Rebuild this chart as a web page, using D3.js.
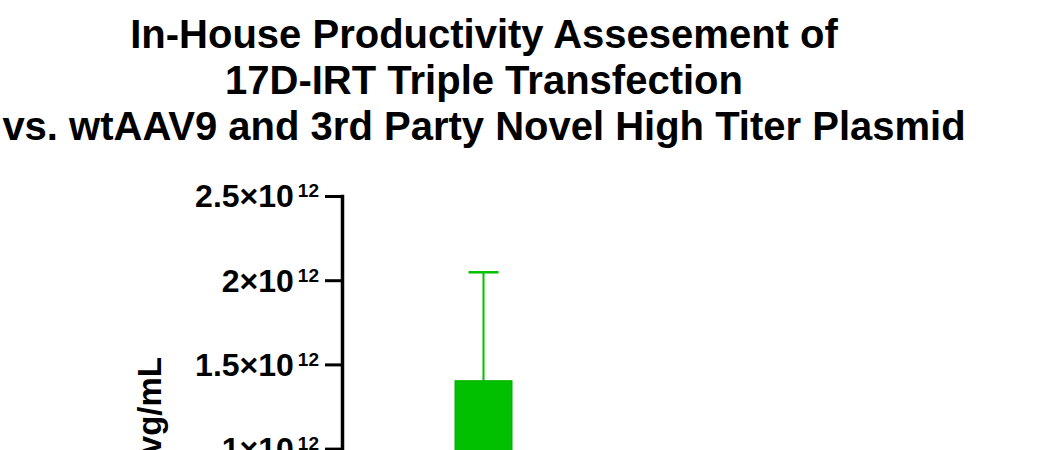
<!DOCTYPE html>
<html>
<head>
<meta charset="utf-8">
<script src="https://cdn.jsdelivr.net/npm/d3@7"></script>
<style>
  body { margin: 0; background: #fff; }
  svg { display: block; font-family: "Liberation Sans", Arial, sans-serif; }
</style>
</head>
<body>
<svg id="chart" width="1053" height="450"></svg>
<script>
// data
const titleLines = [
    "In-House Productivity Assesement of",
    "17D-IRT Triple Transfection",
    "vs. wtAAV9 and 3rd Party Novel High Titer Plasmid"
];
const categories = ["17D-IRT"];
const means = [1.403e12];
const errors = [0.644e12];
const yTicks = [0, 0.5e12, 1e12, 1.5e12, 2e12, 2.5e12];
const yTickMantissa = ["0", "5", "1", "1.5", "2", "2.5"];
const yTickExp = ["", "11", "12", "12", "12", "12"];
const yTitle = "vg/mL";

const svg = d3.select("#chart");
const green = "#00c000";

// titulo
svg.append("g")
    .selectAll("text")
    .data(titleLines)
    .enter()
    .append("text")
    .attr("x", 484)
    .attr("y", (d, i) => 48 + i * 46)
    .attr("text-anchor", "middle")
    .attr("font-size", "40px")
    .attr("font-weight", "bold")
    .text(d => d);

const axisX = 342;
const y = d3.scaleLinear()
    .domain([0, 2.5e12])
    .range([617, 196]);

const x = d3.scaleBand()
    .domain(categories)
    .range([398, 569])
    .padding(0.5);

// eje y
const yAxis = svg.append("g")
    .attr("transform", `translate(${axisX},0)`)
    .call(d3.axisLeft(y).tickValues(yTicks).tickSize(17).tickSizeOuter(0).tickFormat(""));

yAxis.select(".domain")
    .attr("stroke", "black")
    .attr("stroke-width", 3.5)
    .attr("stroke-linecap", "square");

yAxis.selectAll(".tick line")
    .attr("stroke", "black")
    .attr("stroke-width", 3);

yAxis.selectAll(".tick").each(function(d, i) {
    const t = d3.select(this).append("text")
        .attr("x", -23)
        .attr("dy", "0.34em")
        .attr("fill", "black")
        .attr("text-anchor", "end")
        .attr("font-size", "32px")
        .attr("font-weight", "bold")
        .attr("font-family", "Liberation Sans, Arial, sans-serif");
    if (yTickExp[i] === "") {
        t.text(yTickMantissa[i]);
        return;
    }
    t.append("tspan").text(yTickMantissa[i] + "\u00d710");
    t.append("tspan")
        .attr("dx", 4)
        .attr("dy", -10)
        .attr("font-size", "19px")
        .text(yTickExp[i]);
});

// titulo del eje
svg.append("text")
    .attr("transform", "translate(161,357) rotate(-90)")
    .attr("text-anchor", "end")
    .attr("font-size", "33px")
    .attr("font-weight", "bold")
    .text(yTitle);

// barras
svg.selectAll("rect.bar")
    .data(categories)
    .enter()
    .append("rect")
    .attr("class", "bar")
    .attr("x", d => x(d))
    .attr("y", (d, i) => y(means[i]))
    .attr("width", x.bandwidth())
    .attr("height", (d, i) => y(0) - y(means[i]))
    .attr("fill", green)
    .attr("stroke", "#00b000")
    .attr("stroke-width", 1);

// barras de error
const err = svg.selectAll("g.err")
    .data(categories)
    .enter()
    .append("g")
    .attr("class", "err");

err.append("line")
    .attr("x1", d => x(d) + x.bandwidth() / 2)
    .attr("x2", d => x(d) + x.bandwidth() / 2)
    .attr("y1", (d, i) => y(means[i]))
    .attr("y2", (d, i) => y(means[i] + errors[i]))
    .attr("stroke", green)
    .attr("stroke-width", 2);

err.append("line")
    .attr("x1", d => x(d) + x.bandwidth() / 2 - 15)
    .attr("x2", d => x(d) + x.bandwidth() / 2 + 15)
    .attr("y1", (d, i) => y(means[i] + errors[i]))
    .attr("y2", (d, i) => y(means[i] + errors[i]))
    .attr("stroke", green)
    .attr("stroke-width", 2.5);
</script>
</body>
</html>
